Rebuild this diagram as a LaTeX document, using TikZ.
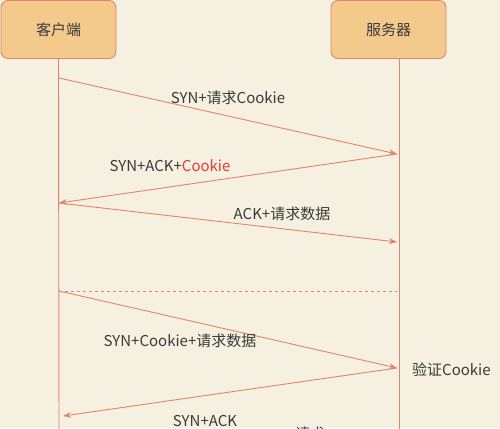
\documentclass[tikz,border=0pt]{standalone}
\usepackage{fontspec}
\setmainfont{Noto Sans CJK SC}
\usetikzlibrary{arrows.meta}
\definecolor{bg}{HTML}{F5F0E0}
\definecolor{boxfill}{HTML}{F3C98C}
\definecolor{linec}{HTML}{E2846C}
\definecolor{txt}{HTML}{3A3A3A}
\definecolor{redtxt}{HTML}{E03A3A}
\tikzset{
  actor/.style={draw=linec, fill=boxfill, line width=0.9pt, rounded corners=7pt,
    minimum width=115pt, minimum height=58pt, font=\fontsize{15}{17}\selectfont, text=txt},
  life/.style={draw=linec, line width=0.9pt},
  msg/.style={draw=linec, line width=0.9pt, -{Stealth[length=8pt,width=6pt]}},
  lbl/.style={font=\fontsize{15}{17}\selectfont, text=txt, inner sep=0pt},
}
\begin{document}
\begin{tikzpicture}[x=1pt,y=-1pt]
\fill[bg] (0,0) rectangle (500,428);
\useasboundingbox (0,0) rectangle (500,428);
\node[actor] (client) at (58.5,29.5) {客户端};
\node[actor] (server) at (388.5,29.5) {服务器};
\coordinate (cend) at (59,440);
\coordinate (send) at (399,440);
\draw[life] (client.south) -- (cend);
\draw[life] (server.south -| send) -- (send);
% message points
\coordinate (c1) at (59,78);
\coordinate (s1) at (397,154);
\coordinate (c2) at (59,203);
\coordinate (s2) at (397,242);
\coordinate (c3) at (59,291);
\coordinate (s3) at (397,291);
\coordinate (s4) at (397,368);
\coordinate (c4) at (63,416);
\draw[msg] (c1) -- (s1);
\draw[msg] (s1) -- (c2);
\draw[msg] (c2) -- (s2);
\draw[life, dash pattern=on 3pt off 3pt] (c3) -- (s3);
\draw[msg] (c3) -- (s4);
\draw[msg] (s4) -- (c4);
\node[lbl] (l1) at (228,98) {SYN+请求Cookie};
\node[lbl] (l2) at (170,166) {SYN+ACK+\textcolor{redtxt}{Cookie}};
\node[lbl] (l3) at (282,214) {ACK+请求数据};
\node[lbl] (l4) at (180,341) {SYN+Cookie+请求数据};
\node[lbl, anchor=west] (l5) at (412,370) {验证Cookie};
\node[lbl] (l6) at (205,421) {SYN+ACK};
\node[lbl] (l7) at (310,434) {请求};
\end{tikzpicture}
\end{document}
